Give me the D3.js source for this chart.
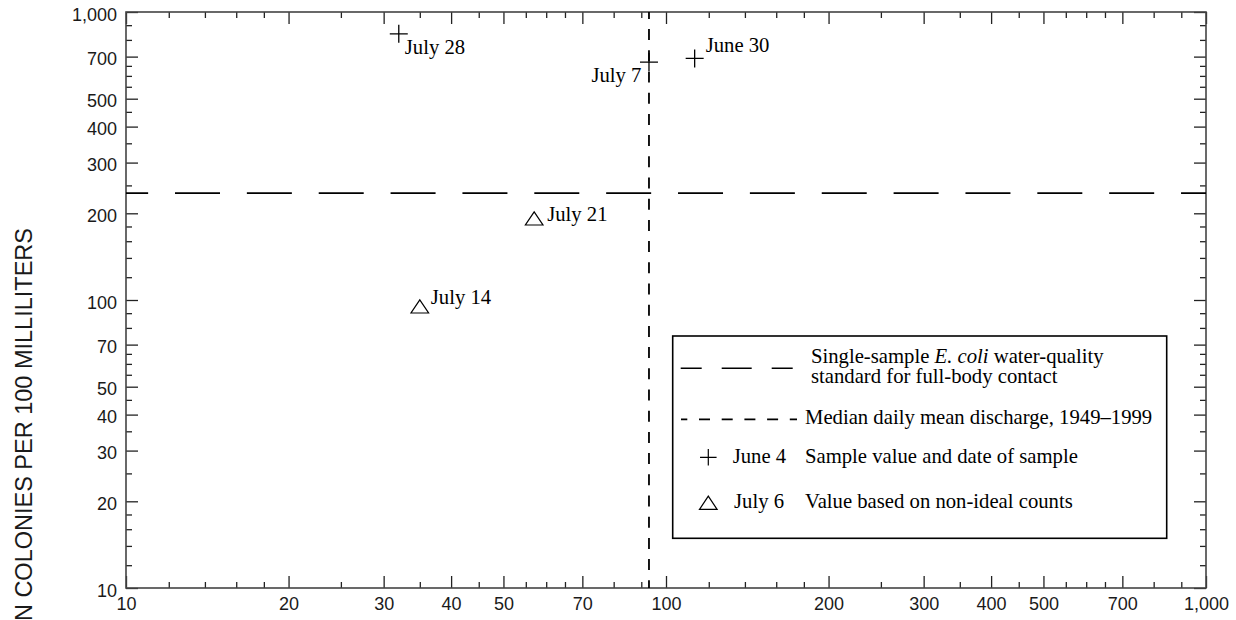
<!DOCTYPE html>
<html>
<head>
<meta charset="utf-8">
<script src="https://cdn.jsdelivr.net/npm/d3@7"></script>
<style>
  html, body { margin: 0; padding: 0; background: #fff; overflow: hidden; }
  svg { display: block; }
</style>
</head>
<body>
<svg id="chart" width="1236" height="620"></svg>
<script>
// ---------------- data ----------------
const xMajorTicks = [10, 20, 30, 40, 50, 70, 100, 200, 300, 400, 500, 700, 1000];
const xMinorTicks = [12, 14, 16, 18, 25, 35, 45, 55, 60, 65, 80, 90, 120, 140, 160, 180, 250, 350, 450, 550, 600, 650, 800, 900];
const yMajorTicks = [10, 20, 30, 40, 50, 70, 100, 200, 300, 400, 500, 700, 1000];
const yMinorTicks = [12, 14, 16, 18, 25, 35, 45, 55, 60, 65, 80, 90, 120, 140, 160, 180, 250, 350, 450, 550, 600, 650, 800, 900];

// samples (+)
const sampleDischarge = [32, 93, 113];
const sampleEcoli = [840, 670, 690];
const sampleDates = ["July 28", "July 7", "June 30"];

// samples based on non-ideal counts (triangles)
const nonIdealDischarge = [57, 35];
const nonIdealEcoli = [192, 95];
const nonIdealDates = ["July 21", "July 14"];

const standardValue = 235;       // single-sample water-quality standard
const medianDischarge = 93;      // median daily mean discharge 1949-1999

const yTitle = "E. COLI CONCENTRATION, IN COLONIES PER 100 MILLILITERS";

// ---------------- layout ----------------
const L = 126, R = 1206, T = 12, B = 588;
const svg = d3.select("#chart");
const x = d3.scaleLog().domain([10, 1000]).range([L, R]);
const y = d3.scaleLog().domain([10, 1000]).range([B, T]);

const SANS = "'Liberation Sans', Arial, sans-serif";
const SERIF = "'Liberation Serif', 'Times New Roman', serif";
const tickFont = 18;
const serifSize = 20.7;

svg.append("rect").attr("width", 1236).attr("height", 620).attr("fill", "#fff");

function styleAxis(g) {
  g.select(".domain").remove();
  g.selectAll(".tick line").attr("stroke", "#222").attr("stroke-width", 1.3);
  g.selectAll("text").attr("font-family", SANS).attr("font-size", tickFont).attr("fill", "#1a1a1a");
}

// bottom axis
svg.append("g").attr("transform", `translate(0,${B})`)
  .call(d3.axisBottom(x).tickValues(xMajorTicks).tickSize(-12).tickPadding(9).tickFormat(d3.format(",")))
  .call(styleAxis);
svg.append("g").attr("transform", `translate(0,${B})`)
  .call(d3.axisBottom(x).tickValues(xMinorTicks).tickSize(-6).tickFormat(""))
  .call(styleAxis);
// top axis
svg.append("g").attr("transform", `translate(0,${T})`)
  .call(d3.axisTop(x).tickValues(xMajorTicks).tickSize(-12).tickFormat(""))
  .call(styleAxis);
svg.append("g").attr("transform", `translate(0,${T})`)
  .call(d3.axisTop(x).tickValues(xMinorTicks).tickSize(-6).tickFormat(""))
  .call(styleAxis);
// left axis
const leftAx = svg.append("g").attr("transform", `translate(${L},0)`)
  .call(d3.axisLeft(y).tickValues(yMajorTicks).tickSize(-12).tickPadding(9).tickFormat(d3.format(",")))
  .call(styleAxis);
leftAx.selectAll("text").attr("dy", "0.46em");
svg.append("g").attr("transform", `translate(${L},0)`)
  .call(d3.axisLeft(y).tickValues(yMinorTicks).tickSize(-6).tickFormat(""))
  .call(styleAxis);
// right axis
svg.append("g").attr("transform", `translate(${R},0)`)
  .call(d3.axisRight(y).tickValues(yMajorTicks).tickSize(-12).tickFormat(""))
  .call(styleAxis);
svg.append("g").attr("transform", `translate(${R},0)`)
  .call(d3.axisRight(y).tickValues(yMinorTicks).tickSize(-6).tickFormat(""))
  .call(styleAxis);

// frame
svg.append("rect").attr("x", L).attr("y", T).attr("width", R - L).attr("height", B - T)
  .attr("fill", "none").attr("stroke", "#444").attr("stroke-width", 1.6);

// standard line (long dash)
svg.append("line")
  .attr("x1", L).attr("x2", R).attr("y1", y(standardValue)).attr("y2", y(standardValue))
  .attr("stroke", "#000").attr("stroke-width", 1.6)
  .attr("stroke-dasharray", "45,26.86").attr("stroke-dashoffset", 22.86);

// median discharge line (short dash)
svg.append("line")
  .attr("x1", x(medianDischarge)).attr("x2", x(medianDischarge)).attr("y1", T).attr("y2", B)
  .attr("stroke", "#000").attr("stroke-width", 1.8)
  .attr("stroke-dasharray", "11,10.2").attr("stroke-dashoffset", 4.1);

// point markers
const crossPath = "M-9,0H9M0,-9V9";
const triPath = "M0,-6.6L8.8,6.6L-8.8,6.6Z";

const sampleLabelOffsets = [
  { dx: 6, dy: 20, anchor: "start" },
  { dx: -7.5, dy: 19.5, anchor: "end" },
  { dx: 11, dy: -6, anchor: "start" }
];
const nonIdealLabelOffsets = [
  { dx: 13, dy: 2.5, anchor: "start" },
  { dx: 11, dy: -2, anchor: "start" }
];

const samples = sampleDischarge.map((d, i) => ({ q: d, c: sampleEcoli[i], label: sampleDates[i], off: sampleLabelOffsets[i] }));
const nonIdeal = nonIdealDischarge.map((d, i) => ({ q: d, c: nonIdealEcoli[i], label: nonIdealDates[i], off: nonIdealLabelOffsets[i] }));

const sg = svg.append("g").selectAll("g").data(samples).join("g")
  .attr("transform", d => `translate(${x(d.q)},${y(d.c)})`);
sg.append("path").attr("d", crossPath).attr("stroke", "#000").attr("stroke-width", 1.3).attr("fill", "none");
sg.append("text").attr("x", d => d.off.dx).attr("y", d => d.off.dy).attr("text-anchor", d => d.off.anchor)
  .attr("font-family", SERIF).attr("font-size", serifSize).attr("fill", "#000").text(d => d.label);

const tg = svg.append("g").selectAll("g").data(nonIdeal).join("g")
  .attr("transform", d => `translate(${x(d.q)},${y(d.c)})`);
tg.append("path").attr("d", triPath).attr("stroke", "#000").attr("stroke-width", 1.2).attr("fill", "none");
tg.append("text").attr("x", d => d.off.dx).attr("y", d => d.off.dy).attr("text-anchor", d => d.off.anchor)
  .attr("font-family", SERIF).attr("font-size", serifSize).attr("fill", "#000").text(d => d.label);

// legend
const lg = svg.append("g");
lg.append("rect").attr("x", 672.7).attr("y", 336).attr("width", 494).attr("height", 202.3)
  .attr("fill", "#fff").attr("stroke", "#000").attr("stroke-width", 1.6);
lg.append("line").attr("x1", 680.7).attr("x2", 792.7).attr("y1", 368.3).attr("y2", 368.3)
  .attr("stroke", "#000").attr("stroke-width", 1.6).attr("stroke-dasharray", "30,20").attr("stroke-dashoffset", 9);
const t1 = lg.append("text").attr("x", 811).attr("y", 362.5).attr("font-family", SERIF).attr("font-size", serifSize);
t1.append("tspan").text("Single-sample ");
t1.append("tspan").attr("font-style", "italic").text("E. coli");
t1.append("tspan").text(" water-quality");
lg.append("text").attr("x", 811).attr("y", 383.3).attr("font-family", SERIF).attr("font-size", serifSize)
  .text("standard for full-body contact");

lg.append("line").attr("x1", 681).attr("x2", 797).attr("y1", 419.3).attr("y2", 419.3)
  .attr("stroke", "#000").attr("stroke-width", 1.8).attr("stroke-dasharray", "11,11.7").attr("stroke-dashoffset", 4.7);
lg.append("text").attr("x", 805).attr("y", 423.5).attr("font-family", SERIF).attr("font-size", serifSize)
  .text("Median daily mean discharge, 1949\u20131999");

lg.append("path").attr("d", crossPath).attr("transform", "translate(708.3,457.3) scale(0.92)")
  .attr("stroke", "#000").attr("stroke-width", 1.3).attr("fill", "none");
lg.append("text").attr("x", 732.7).attr("y", 463.3).attr("font-family", SERIF).attr("font-size", serifSize).text("June 4");
lg.append("text").attr("x", 805).attr("y", 463.3).attr("font-family", SERIF).attr("font-size", serifSize).text("Sample value and date of sample");

lg.append("path").attr("d", triPath).attr("transform", "translate(708.3,502.7)")
  .attr("stroke", "#000").attr("stroke-width", 1.2).attr("fill", "none");
lg.append("text").attr("x", 734).attr("y", 508.3).attr("font-family", SERIF).attr("font-size", serifSize).text("July 6");
lg.append("text").attr("x", 805).attr("y", 508.3).attr("font-family", SERIF).attr("font-size", serifSize).text("Value based on non-ideal counts");

// y-axis title (partially outside the visible area, as in the reference)
svg.append("text")
  .attr("transform", "translate(32,228) rotate(-90)")
  .attr("text-anchor", "end")
  .attr("font-family", SANS).attr("font-size", 23.5).attr("fill", "#1a1a1a")
  .text(yTitle);
</script>
</body>
</html>
